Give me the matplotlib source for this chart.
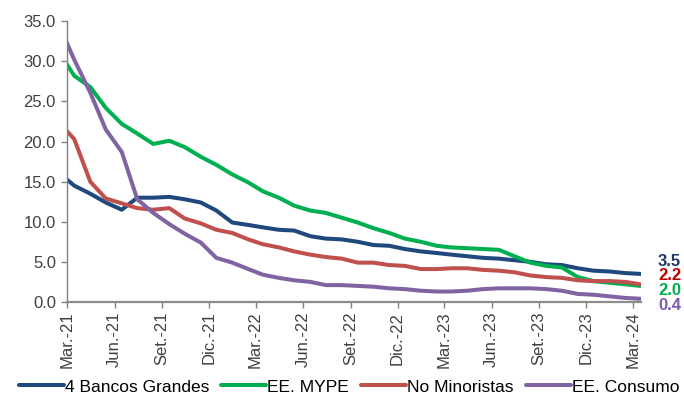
import pandas as pd
import matplotlib
matplotlib.use("Agg")
import matplotlib.pyplot as plt
import matplotlib.transforms as mtransforms

plt.rcParams['font.family'] = ['Liberation Sans', 'DejaVu Sans']

# monthly data, Feb-21 .. Mar-24 (points sit mid-month on a date axis)
months = pd.date_range('2021-02-01', '2024-03-01', freq='MS')
dates = months + pd.Timedelta(days=14)

bancos_grandes = [16.0, 14.5, 13.5, 12.4, 11.5, 13.0, 13.0, 13.1, 12.8, 12.4, 11.4,
                  9.9, 9.6, 9.3, 9.0, 8.9, 8.2, 7.9, 7.8, 7.5, 7.1, 7.0, 6.6,
                  6.3, 6.1, 5.9, 5.7, 5.5, 5.4, 5.2, 5.0, 4.7, 4.6, 4.2, 3.9,
                  3.8, 3.6, 3.5]
ee_mype = [31.0, 28.2, 26.8, 24.2, 22.2, 21.0, 19.7, 20.1, 19.3, 18.1, 17.1,
           15.9, 14.9, 13.8, 13.0, 12.0, 11.4, 11.1, 10.5, 9.9, 9.2, 8.6, 7.9,
           7.5, 7.0, 6.8, 6.7, 6.6, 6.5, 5.7, 4.9, 4.5, 4.3, 3.1, 2.6,
           2.4, 2.2, 2.0]
no_minoristas = [22.3, 20.3, 15.0, 12.9, 12.3, 11.7, 11.5, 11.7, 10.4, 9.8, 9.0,
                 8.6, 7.8, 7.2, 6.8, 6.3, 5.9, 5.6, 5.4, 4.9, 4.9, 4.6, 4.5,
                 4.1, 4.1, 4.2, 4.2, 4.0, 3.9, 3.7, 3.3, 3.1, 3.0, 2.7, 2.6,
                 2.6, 2.5, 2.2]
ee_consumo = [34.3, 30.2, 26.1, 21.5, 18.7, 12.8, 11.1, 9.7, 8.5, 7.4, 5.5,
              4.9, 4.1, 3.4, 3.0, 2.7, 2.5, 2.1, 2.1, 2.0, 1.9, 1.7, 1.6,
              1.4, 1.3, 1.3, 1.4, 1.6, 1.7, 1.7, 1.7, 1.6, 1.4, 1.0, 0.9,
              0.7, 0.5, 0.4]

series = [
    ('4 Bancos Grandes', bancos_grandes, '#1F497D'),
    ('EE. MYPE', ee_mype, '#00B050'),
    ('No Minoristas', no_minoristas, '#C0504D'),
    ('EE. Consumo', ee_consumo, '#8064A2'),
]

tick_dates = pd.date_range('2021-03-01', '2024-03-01', freq='3MS')
tick_labels = ['Mar.-21', 'Jun.-21', 'Set.-21', 'Dic.-21',
               'Mar.-22', 'Jun.-22', 'Set.-22', 'Dic.-22',
               'Mar.-23', 'Jun.-23', 'Set.-23', 'Dic.-23', 'Mar.-24']

# end labels (text, colour) and their vertical spot in data units
end_labels = ['3.5', '2.2', '2.0', '0.4']
end_colors = ['#1F3864', '#C00000', '#00B050', '#7F58B0']
end_label_y = [5.1, 3.3, 1.45, -0.5]

fig = plt.figure(figsize=(6.84, 4.01), dpi=100)
ax = fig.add_axes([0.098, 0.247, 0.839, 0.700])

for name, vals, col in series:
    ax.plot(dates, vals, color=col, lw=2.9, label=name, solid_capstyle='round')

ax.set_xlim(pd.Timestamp('2021-03-01'), pd.Timestamp('2024-03-16'))
ax.set_ylim(0, 35)
ax.set_yticks(range(0, 36, 5))
ax.set_yticklabels(['%.1f' % v for v in range(0, 36, 5)])
ax.set_xticks(tick_dates)
ax.set_xticklabels(tick_labels, rotation=90)

for s in ['top', 'right']:
    ax.spines[s].set_visible(False)
ax.spines['left'].set_color('#808080')
ax.spines['left'].set_linewidth(1.0)
ax.spines['bottom'].set_color('#8C8C8C')
ax.spines['bottom'].set_linewidth(1.6)
ax.tick_params(axis='both', colors='#808080', length=4, width=1.0,
               labelsize=12, labelcolor='#404040')
ax.tick_params(axis='y', pad=4)
ax.tick_params(axis='x', pad=3)

trans = mtransforms.blended_transform_factory(ax.transAxes, ax.transData)
for txt, col, yy in zip(end_labels, end_colors, end_label_y):
    ax.text(1.03, yy, txt, transform=trans, color=col, fontsize=12,
            fontweight='bold', va='center', ha='left', clip_on=False)

fig.legend(loc='center', bbox_to_anchor=(0.51, 0.035), ncol=4, frameon=False,
           fontsize=12.5, handlelength=2.6, handletextpad=0.05,
           columnspacing=0.7, borderaxespad=0)

fig.savefig('out.png', dpi=100)
